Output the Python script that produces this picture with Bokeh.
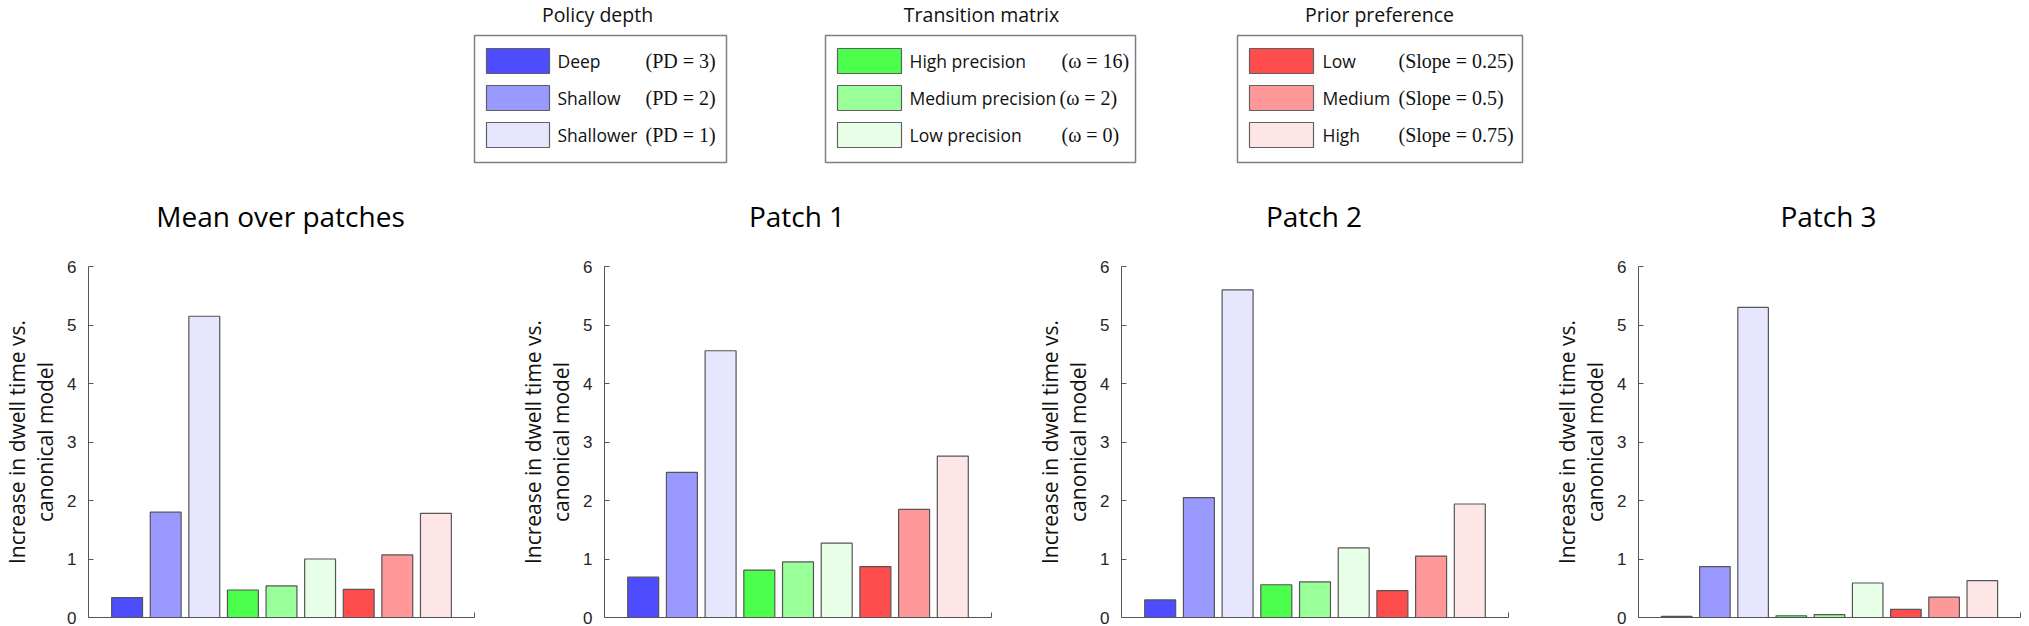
from bokeh.plotting import figure
from bokeh.layouts import column, row
from bokeh.models import Range1d, FixedTicker, ColumnDataSource
from bokeh.core.properties import value
from bokeh.embed import file_html
from bokeh.resources import INLINE

# ---------------- data ----------------
categories = ["Deep", "Shallow", "Shallower",
              "High precision", "Medium precision", "Low precision",
              "Low", "Medium", "High"]
panel_titles = ["Mean over patches", "Patch 1", "Patch 2", "Patch 3"]
mean_vals = [0.34, 1.80, 5.15, 0.47, 0.54, 1.00, 0.48, 1.07, 1.78]
patch1_vals = [0.69, 2.48, 4.56, 0.81, 0.95, 1.27, 0.87, 1.85, 2.76]
patch2_vals = [0.30, 2.05, 5.60, 0.56, 0.61, 1.19, 0.46, 1.05, 1.94]
patch3_vals = [0.02, 0.87, 5.30, 0.03, 0.05, 0.59, 0.14, 0.35, 0.63]
bar_colors = ["#4d4dff", "#9999ff", "#e6e6ff",
              "#4dff4d", "#99ff99", "#e6ffe6",
              "#ff4d4d", "#ff9999", "#ffe6e6"]
y_ticks = [0, 1, 2, 3, 4, 5, 6]
y_label = "Increase in dwell time vs.\ncanonical model"

legend_titles = ["Policy depth", "Transition matrix", "Prior preference"]
legend_labels = [["Deep", "Shallow", "Shallower"],
                 ["High precision", "Medium precision", "Low precision"],
                 ["Low", "Medium", "High"]]
legend_params = [["(PD = 3)", "(PD = 2)", "(PD = 1)"],
                 ["(\u03c9 = 16)", "(\u03c9 = 2)", "(\u03c9 = 0)"],
                 ["(Slope = 0.25)", "(Slope = 0.5)", "(Slope = 0.75)"]]

# ---------------- layout constants (page pixels) ----------------
TOP_H = 240                      # legend strip + panel titles
fig_w = [516, 517, 517, 479]
border_l = 86
border_r = [42, 42, 42, 9]
CH = 626 - TOP_H

box_x = [(474, 726), (825, 1135), (1237, 1522)]
box_y = (35, 162)
sw_x = [(486, 549), (837, 901), (1249, 1313)]
row_y = [(48, 73), (85, 110), (122, 147)]
lab_x = [557, 909, 1322]
par_x = [[645, 645, 645], [1061, 1059, 1061], [1398, 1398, 1398]]
title_cx = [597, 981, 1379]

top = figure(width=2029, height=TOP_H, x_range=Range1d(0, 2029), y_range=Range1d(TOP_H, 0),
             output_backend="svg", toolbar_location=None, min_border=0)
top.axis.visible = False
top.grid.visible = False
top.outline_line_color = None

for g in range(3):
    top.quad(left=[box_x[g][0]], right=[box_x[g][1]], top=[box_y[0]], bottom=[box_y[1]],
             fill_color="white", line_color="#7f7f7f", line_width=1.5)
    top.text(x=[title_cx[g]], y=[13.5], text=[legend_titles[g]], text_align="center",
             text_baseline="middle", text_font=value("Open Sans"), text_font_size="19.5px",
             text_color="#111111")
    for r in range(3):
        top.quad(left=[sw_x[g][0]], right=[sw_x[g][1]], top=[row_y[r][0]], bottom=[row_y[r][1]],
                 fill_color=bar_colors[g * 3 + r], line_color="#606060", line_width=1.2)
        cy = (row_y[r][0] + row_y[r][1]) / 2
        top.text(x=[lab_x[g]], y=[cy], text=[legend_labels[g][r]], text_align="left",
                 text_baseline="middle", text_font=value("Open Sans"), text_font_size="17.5px",
                 text_color="#111111")
        top.text(x=[par_x[g][r]], y=[cy - 0.5], text=[legend_params[g][r]], text_align="left",
                 text_baseline="middle", text_font=value("Liberation Serif"), text_font_size="20px",
                 text_color="#111111")

# panel titles, centred over each plot frame
frame_w = [fig_w[i] - border_l - border_r[i] for i in range(4)]
x0 = 0
for i in range(4):
    cx = x0 + border_l + frame_w[i] / 2
    top.text(x=[cx], y=[215], text=[panel_titles[i]], text_align="center",
             text_baseline="middle", text_font=value("Open Sans"), text_font_size="28px",
             text_color="#000000")
    x0 += fig_w[i]

# ---------------- bar panels ----------------
all_vals = [mean_vals, patch1_vals, patch2_vals, patch3_vals]


def make_panel(vals, w, br):
    xs = list(range(1, len(vals) + 1))
    src = ColumnDataSource(dict(x=xs, top=vals, color=bar_colors, cat=categories))
    p = figure(width=w, height=CH, x_range=Range1d(0, 10), y_range=Range1d(0, 6),
               min_border_left=border_l, min_border_right=br, min_border_top=26, min_border_bottom=9,
               output_backend="svg", toolbar_location=None)
    p.vbar(x="x", top="top", bottom=0, width=0.8, fill_color="color",
           line_color="#555555", line_width=1.2, source=src)
    p.grid.visible = False
    p.outline_line_color = None
    p.background_fill_color = "white"

    ya = p.yaxis[0]
    ya.ticker = FixedTicker(ticks=y_ticks)
    ya.major_tick_in = 5
    ya.major_tick_out = 0
    ya.minor_tick_line_color = None
    ya.axis_line_color = "#555555"
    ya.major_tick_line_color = "#555555"
    ya.major_label_text_font = "Liberation Sans"
    ya.major_label_text_font_size = "17px"
    ya.major_label_text_color = "#262626"
    ya.major_label_standoff = 12
    ya.axis_label = y_label
    ya.axis_label_text_font = "Open Sans"
    ya.axis_label_text_font_size = "21px"
    ya.axis_label_text_font_style = "normal"
    ya.axis_label_text_color = "#111111"
    ya.axis_label_text_line_height = 1.0
    ya.axis_label_standoff = 5

    xa = p.xaxis[0]
    xa.ticker = FixedTicker(ticks=[10])
    xa.major_label_overrides = {10: ""}
    xa.major_label_text_font_size = "0px"
    xa.major_label_standoff = 0
    xa.major_tick_in = 5
    xa.major_tick_out = 0
    xa.minor_tick_line_color = None
    xa.axis_line_color = "#555555"
    xa.major_tick_line_color = "#555555"
    return p


panels = [make_panel(all_vals[i], fig_w[i], border_r[i]) for i in range(4)]

layout = column(top, row(*panels))
open("out.html", "w").write(file_html(layout, INLINE))
